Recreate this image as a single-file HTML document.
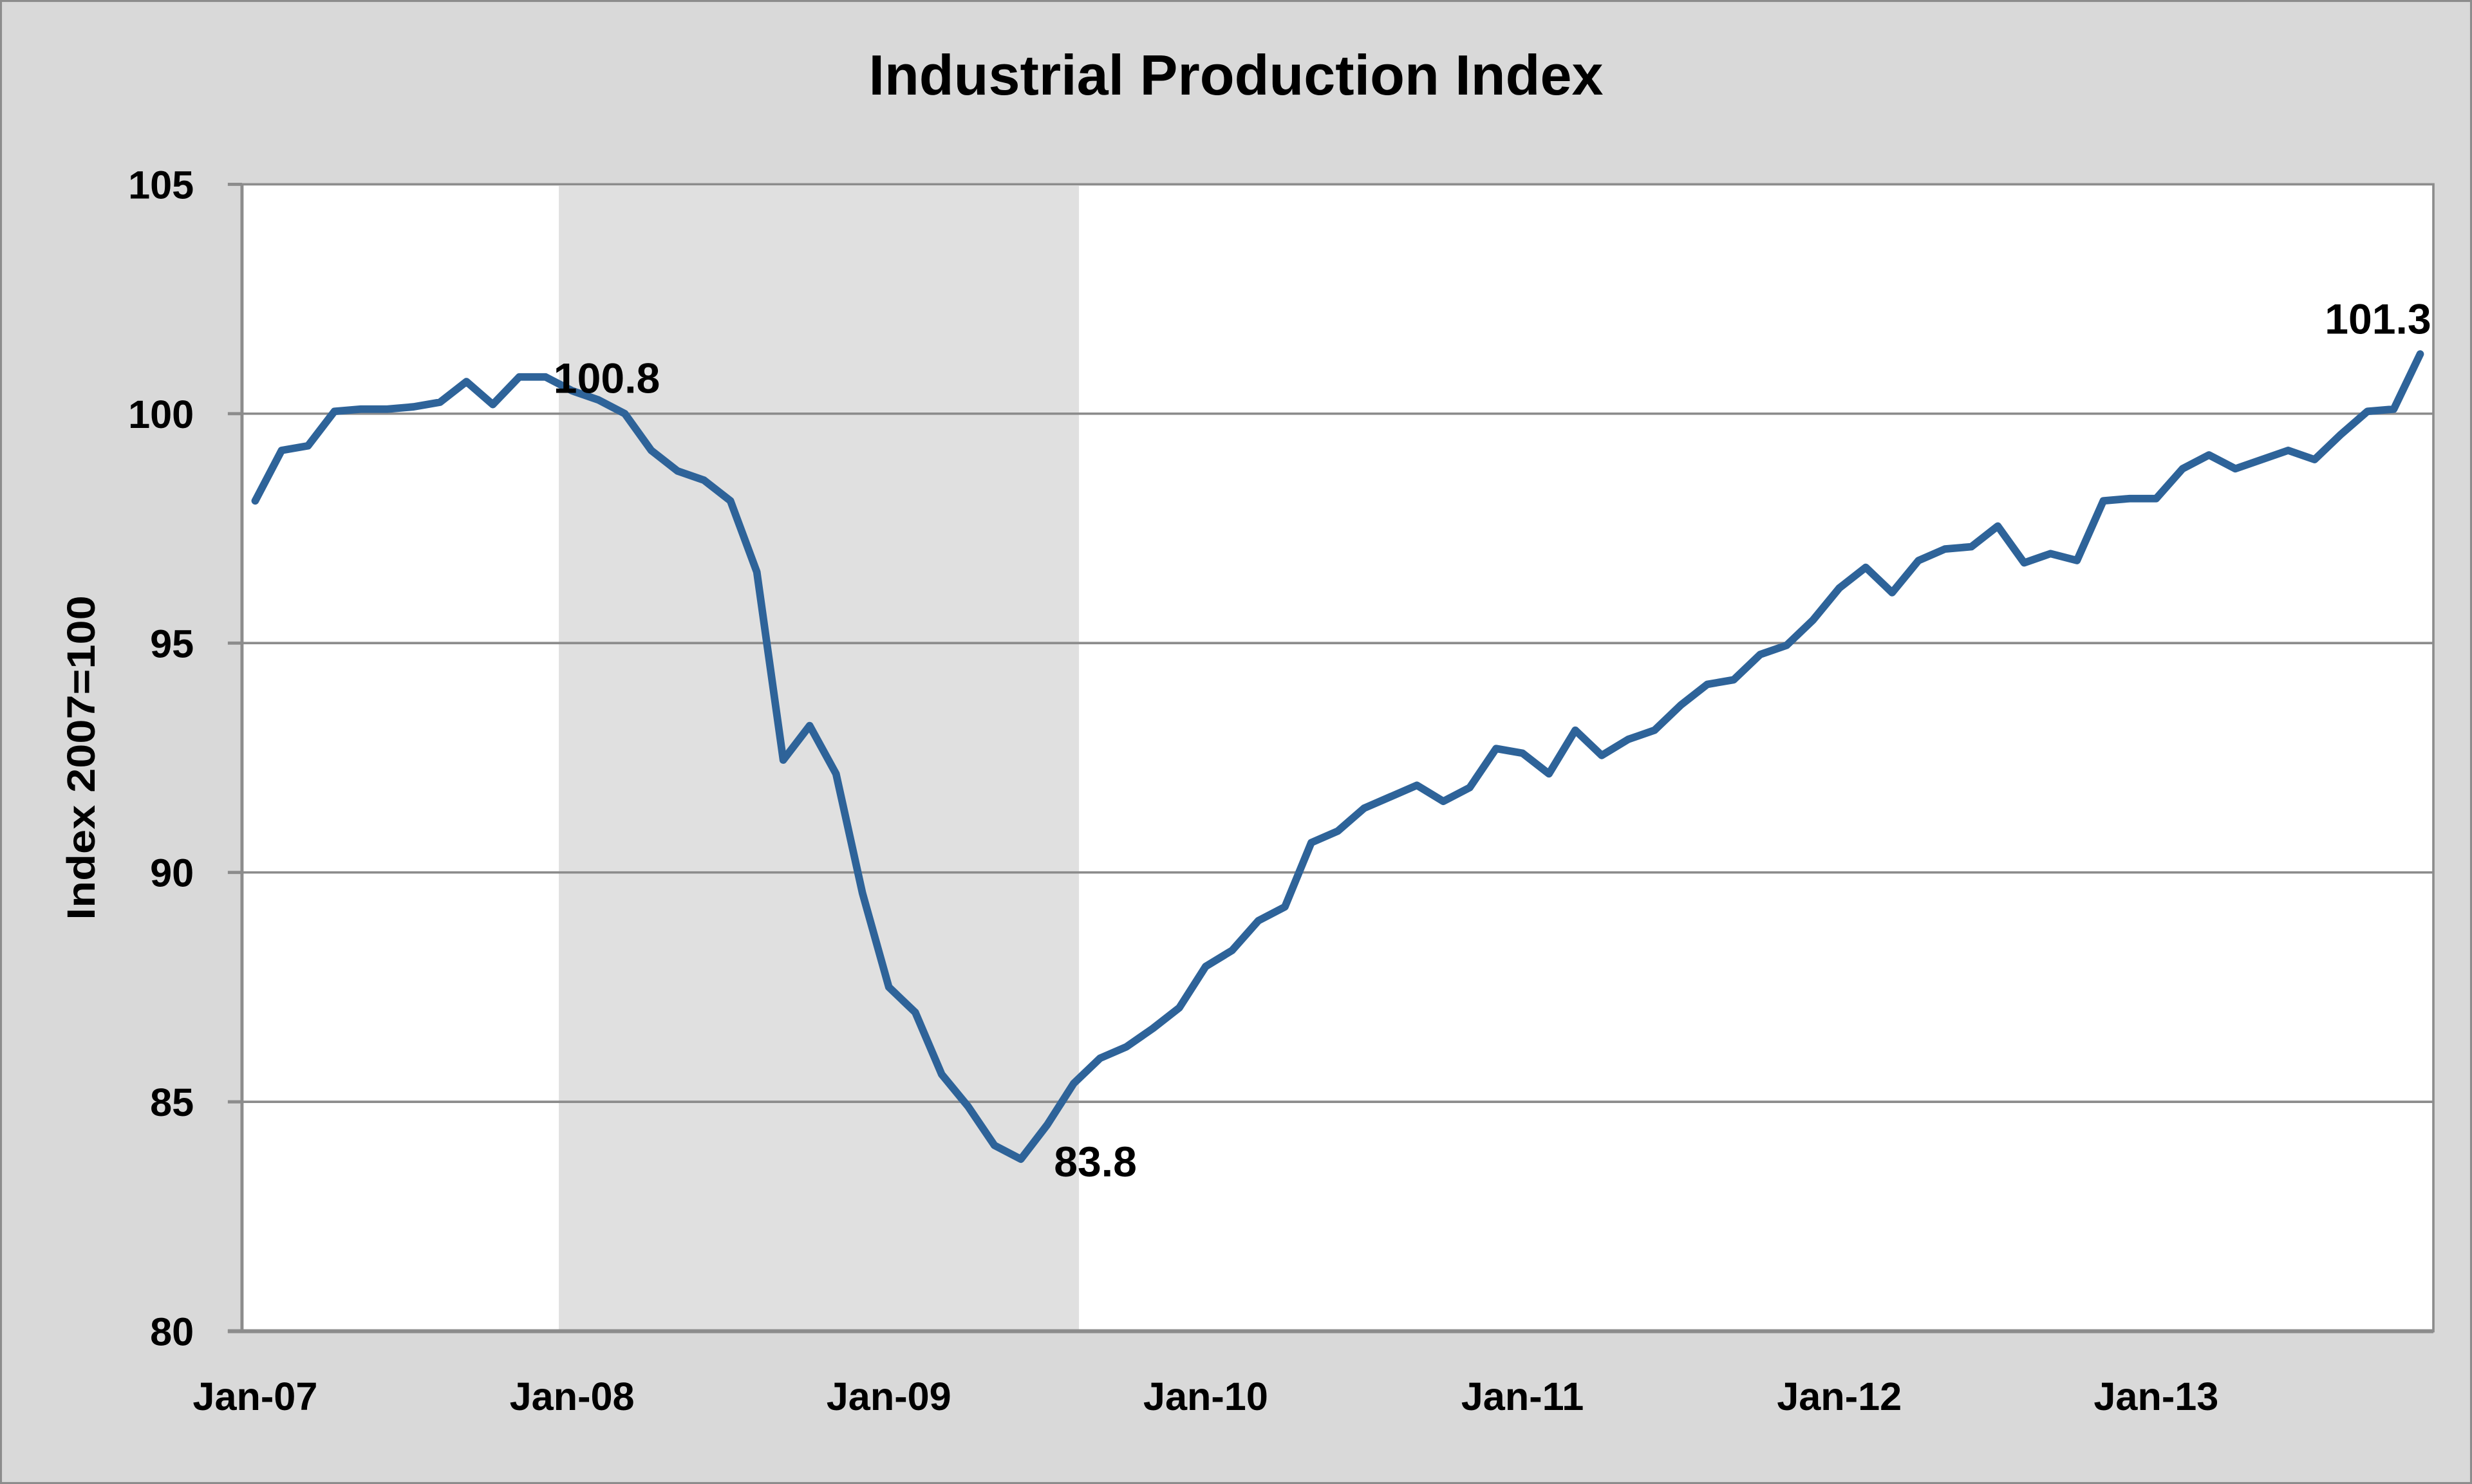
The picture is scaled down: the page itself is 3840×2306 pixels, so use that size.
<!DOCTYPE html>
<html><head><meta charset="utf-8"><style>
html,body{margin:0;padding:0;background:#d9d9d9;}
svg{display:block;}
text{font-family:"Liberation Sans",sans-serif;font-weight:bold;fill:#000;}
</style></head><body>
<svg id="chart" width="3840" height="2306" viewBox="0 0 1568 942" preserveAspectRatio="none" xmlns="http://www.w3.org/2000/svg">
<rect x="0.5" y="0.5" width="1567" height="941" fill="#d9d9d9" stroke="#8c8c8c" stroke-width="1.5"/>
<text x="784" y="60" font-size="36" text-anchor="middle">Industrial Production Index</text>
<rect x="153.5" y="117" width="1390" height="728" fill="#fff" stroke="#8c8c8c" stroke-width="1.5"/>
<g id="shade"></g>
<g id="grid"></g>
<g id="axes"></g>
<g id="series"></g>
<g id="labels"></g>
<text transform="translate(60,481) rotate(-90)" font-size="25" text-anchor="middle" textLength="206" lengthAdjust="spacingAndGlyphs">Index 2007=100</text>
</svg>
<script>
const categories = [];
for (let y = 7; y <= 13; y++) for (let m = 0; m < 12; m++) categories.push(m + '/' + y);
const values = [98.1,99.2,99.3,100.05,100.1,100.1,100.15,100.25,100.7,100.2,100.8,100.8,
100.5,100.3,100.0,99.2,98.75,98.55,98.1,96.55,92.45,93.2,92.15,89.55,
87.5,86.95,85.6,84.9,84.05,83.75,84.5,85.4,85.95,86.2,86.6,87.05,
87.95,88.3,88.95,89.25,90.65,90.9,91.4,91.65,91.9,91.55,91.85,92.7,
92.6,92.15,93.1,92.55,92.9,93.1,93.65,94.1,94.2,94.75,94.95,95.5,
96.2,96.65,96.1,96.8,97.05,97.1,97.55,96.75,96.95,96.8,98.1,98.15,
98.15,98.8,99.1,98.8,99.0,99.2,99.0,99.55,100.05,100.1,101.3];
const yTicks = [80,85,90,95,100,105];
const xTickLabels = ['Jan-07','Jan-08','Jan-09','Jan-10','Jan-11','Jan-12','Jan-13'];
const xTickIndex = [0,12,24,36,48,60,72];
const recession = [12, 31];
const annotations = [[11,'100.8'],[29,'83.8'],[82,'101.3']];

const NS='http://www.w3.org/2000/svg';
const L=153.5,R=1543.5,T=117,B=845,N=values.length;
const cw=(R-L)/N;
const xs=i=>L+cw*(i+0.5);
const ys=v=>B-(v-80)/(105-80)*(B-T);
function mk(tag,attrs,parent){const e=document.createElementNS(NS,tag);for(const k in attrs)e.setAttribute(k,attrs[k]);document.getElementById(parent).appendChild(e);return e;}

const sh=mk('rect',{x:L+cw*recession[0],y:T+1,width:cw*(recession[1]-recession[0]+1)-5,height:B-T-1,fill:'#e0e0e0'},'shade');



yTicks.forEach(v=>{
  const y=ys(v);
  if(v>80&&v<105){const g=mk('line',{x1:L,x2:R,y1:y,y2:y,stroke:'#8c8c8c','stroke-width':1.5},'grid');
  
  }
  const t=mk('line',{x1:L-9,x2:L,y1:y,y2:y,stroke:'#8c8c8c','stroke-width':2},'axes');
  
  
  const tx=mk('text',{x:123,y:y+9,'font-size':25,'text-anchor':'end'},'labels');
  tx.textContent=v;
  
  
});
const ax=mk('line',{x1:L,x2:L,y1:T,y2:B,stroke:'#8c8c8c','stroke-width':2},'axes');


const bx=mk('line',{x1:L-9,x2:R,y1:B,y2:B,stroke:'#8c8c8c','stroke-width':2.5},'axes');



xTickLabels.forEach((lab,k)=>{
  const t=mk('text',{x:xs(xTickIndex[k]),y:895,'font-size':25,'text-anchor':'middle'},'labels');
  t.textContent=lab;
  
  
});

const p=mk('polyline',{points:values.map((v,i)=>xs(i)+','+ys(v)).join(' '),fill:'none',stroke:'#2e6399','stroke-width':4.8,'stroke-linejoin':'round','stroke-linecap':'round'},'series');



annotations.forEach(([i,txt])=>{
  let x,y,anchor;
  if(i===11){x=xs(i)+5;y=ys(values[i])+10;anchor='start';}
  else if(i===29){x=xs(i)+21;y=ys(values[i])+11;anchor='start';}
  else {x=xs(i)+7;y=ys(values[i])-13;anchor='end';}
  const t=mk('text',{x:x,y:y,'font-size':27,'text-anchor':anchor},'labels');
  t.textContent=txt;
  
  
});
</script>
</body></html>
